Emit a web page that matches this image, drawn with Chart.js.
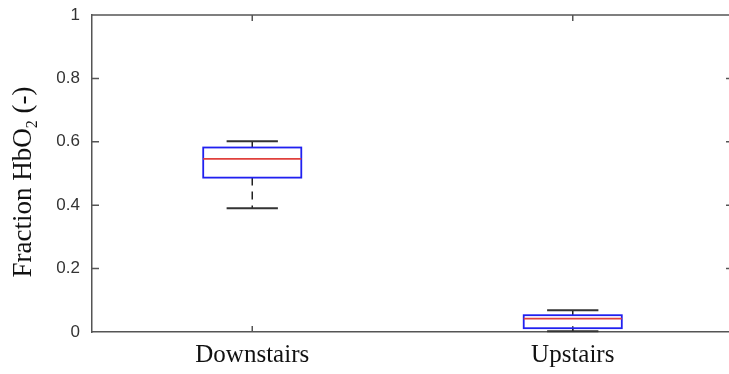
<!DOCTYPE html>
<html>
<head>
<meta charset="utf-8">
<script src="https://cdn.jsdelivr.net/npm/chart.js@4/dist/chart.umd.min.js"></script>
<style>
  html, body { margin: 0; padding: 0; background: #fff; }
  #wrap { width: 729px; height: 374px; }
</style>
</head>
<body>
<div id="wrap"><canvas id="boxChart" width="729" height="374"></canvas></div>
<script>
// box plot values
const categories = ['Downstairs', 'Upstairs'];
const whiskerLow = [0.390, 0.002];
const boxLow     = [0.487, 0.012];
const medians    = [0.546, 0.042];
const boxHigh    = [0.582, 0.053];
const whiskerHigh = [0.602, 0.069];
const yTicks = [0, 0.2, 0.4, 0.6, 0.8, 1];

const axisColor = '#555';
const serif = '"Liberation Serif", "Times New Roman", serif';

// draws boxes, whiskers, inward ticks, top border and the y title
const boxPlotPlugin = {
    id: 'boxPlot',
    afterDraw(chart) {
        const ctx = chart.ctx;
        const x = chart.scales.x;
        const y = chart.scales.y;
        const area = chart.chartArea;

        ctx.save();

        // frame: top line + inward ticks
        ctx.strokeStyle = axisColor;
        ctx.lineWidth = 1.5;
        ctx.beginPath();
        ctx.moveTo(area.left, area.top);
        ctx.lineTo(area.right, area.top);
        const rightX = x.getPixelForValue(2.5);
        yTicks.forEach(function (t) {
            const py = y.getPixelForValue(t);
            if (t > 0 && t < 1) {
                ctx.moveTo(area.left, py);
                ctx.lineTo(area.left + 7, py);
                ctx.moveTo(rightX, py);
                ctx.lineTo(rightX - 7, py);
            }
        });
        categories.forEach(function (c, i) {
            const px = x.getPixelForValue(i + 1);
            ctx.moveTo(px, area.bottom);
            ctx.lineTo(px, area.bottom - 6);
            ctx.moveTo(px, area.top);
            ctx.lineTo(px, area.top + 6);
        });
        ctx.stroke();

        // boxes
        categories.forEach(function (c, i) {
            const cx = x.getPixelForValue(i + 1);
            const boxL = x.getPixelForValue(i + 1 - 0.153);
            const boxR = x.getPixelForValue(i + 1 + 0.153);
            const capL = x.getPixelForValue(i + 1 - 0.08);
            const capR = x.getPixelForValue(i + 1 + 0.08);
            const yLo = y.getPixelForValue(whiskerLow[i]);
            const yQ1 = y.getPixelForValue(boxLow[i]);
            const yMed = y.getPixelForValue(medians[i]);
            const yQ3 = y.getPixelForValue(boxHigh[i]);
            const yHi = y.getPixelForValue(whiskerHigh[i]);

            // whiskers (dashed)
            ctx.strokeStyle = '#222';
            ctx.lineWidth = 1.5;
            ctx.setLineDash([8, 6]);
            ctx.beginPath();
            ctx.moveTo(cx, yQ1);
            ctx.lineTo(cx, yLo);
            ctx.moveTo(cx, yQ3);
            ctx.lineTo(cx, yHi);
            ctx.stroke();
            ctx.setLineDash([]);

            // caps
            ctx.strokeStyle = '#333';
            ctx.lineWidth = 2;
            ctx.beginPath();
            ctx.moveTo(capL, yLo);
            ctx.lineTo(capR, yLo);
            ctx.moveTo(capL, yHi);
            ctx.lineTo(capR, yHi);
            ctx.stroke();

            // box
            ctx.strokeStyle = '#2020f0';
            ctx.lineWidth = 1.8;
            ctx.strokeRect(boxL, yQ3, boxR - boxL, yQ1 - yQ3);

            // median
            ctx.strokeStyle = '#e0403c';
            ctx.lineWidth = 1.8;
            ctx.beginPath();
            ctx.moveTo(boxL, yMed);
            ctx.lineTo(boxR, yMed);
            ctx.stroke();
        });

        // y axis title with subscript
        const big = '27px ' + serif;
        const small = '16px ' + serif;
        const part1 = 'Fraction HbO';
        const part2 = '2';
        const part3 = ' (-)';
        ctx.fillStyle = '#111';
        ctx.font = big;
        const w1 = ctx.measureText(part1).width;
        const w3 = ctx.measureText(part3).width;
        ctx.font = small;
        const w2 = ctx.measureText(part2).width;
        const total = w1 + w2 + w3;
        ctx.translate(31, 182);
        ctx.rotate(-Math.PI / 2);
        ctx.textBaseline = 'alphabetic';
        ctx.textAlign = 'left';
        let pos = -total / 2;
        ctx.font = big;
        ctx.fillText(part1, pos, 0);
        pos += w1;
        ctx.font = small;
        ctx.fillText(part2, pos, 6);
        pos += w2;
        ctx.font = big;
        ctx.fillText(part3, pos, 0);

        ctx.restore();
    }
};

new Chart(document.getElementById('boxChart'), {
    type: 'scatter',
    data: {
        datasets: [{
            data: medians.map(function (m, i) { return { x: i + 1, y: m }; }),
            pointRadius: 0,
            pointHoverRadius: 0
        }]
    },
    options: {
        responsive: false,
        animation: false,
        layout: { padding: { top: 15, right: 0, left: 0, bottom: 0 } },
        plugins: {
            legend: { display: false },
            tooltip: { enabled: false }
        },
        scales: {
            x: {
                type: 'linear',
                min: 0.5,
                max: 2.4875,
                afterBuildTicks: function (scale) {
                    scale.ticks = categories.map(function (c, i) { return { value: i + 1 }; });
                },
                afterFit: function (scale) {
                    scale.height = 42;
                    scale.paddingLeft = 0;
                    scale.paddingRight = 0;
                },
                grid: { display: false, drawTicks: false },
                border: { display: true, color: axisColor, width: 1.5 },
                ticks: {
                    autoSkip: false,
                    maxRotation: 0,
                    padding: 8,
                    color: '#111',
                    font: { family: serif, size: 25 },
                    callback: function (v) { return categories[Math.round(v) - 1]; }
                }
            },
            y: {
                min: 0,
                max: 1,
                afterBuildTicks: function (scale) {
                    scale.ticks = yTicks.map(function (t) { return { value: t }; });
                },
                afterFit: function (scale) {
                    scale.width = 92;
                    scale.paddingTop = 0;
                    scale.paddingBottom = 0;
                },
                grid: { display: false, drawTicks: false },
                border: { display: true, color: axisColor, width: 1.5 },
                ticks: {
                    padding: 12,
                    color: '#333',
                    font: { family: '"Liberation Sans", Arial, sans-serif', size: 17 },
                    callback: function (v) { return String(Math.round(v * 10) / 10); }
                }
            }
        }
    },
    plugins: [boxPlotPlugin]
});
</script>
</body>
</html>
